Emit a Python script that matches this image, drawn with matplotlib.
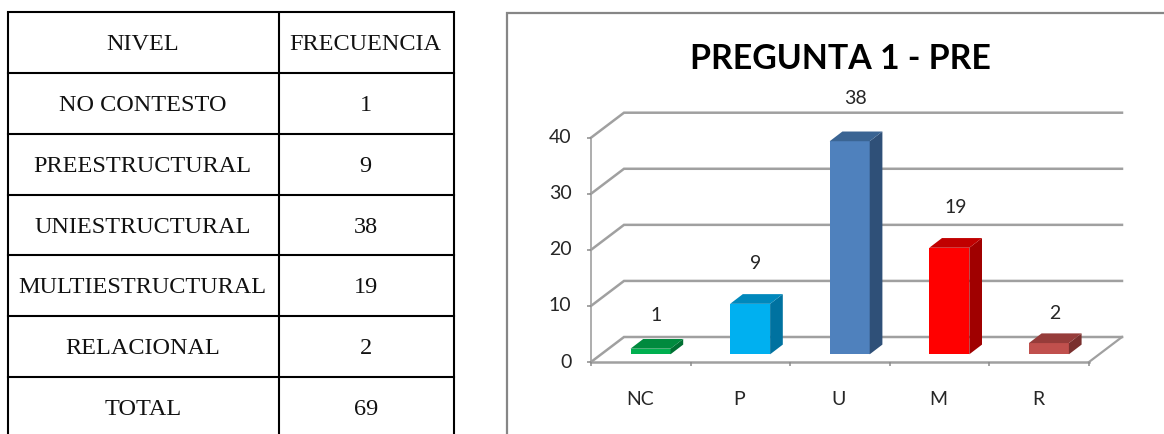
import matplotlib
matplotlib.use("Agg")
import matplotlib.pyplot as plt
from matplotlib.patches import Polygon

# Table contents
niveles = ["NO CONTESTO", "PREESTRUCTURAL", "UNIESTRUCTURAL",
           "MULTIESTRUCTURAL", "RELACIONAL", "TOTAL"]
frecuencias = [1, 9, 38, 19, 2, 69]

# Chart contents
categorias = ["NC", "P", "U", "M", "R"]
valores = [1, 9, 38, 19, 2]
y_ticks = [0, 10, 20, 30, 40]
frente = ["#00B050", "#00B0F0", "#4F81BD", "#FF0000", "#C0504D"]
techo = ["#008A3E", "#0088BC", "#3A6493", "#C00000", "#963C3A"]
lateral = ["#006F32", "#0072A0", "#2F5078", "#A00000", "#7A302E"]

W, H = 1164, 434
GRID = "#A0A0A0"
TEXT = "#262626"
SANS = "Lato"

fig = plt.figure(figsize=(W / 100, H / 100), dpi=100, facecolor="white")

# Page-level layer, measured in pixels: table and chart frame
page = fig.add_axes([0, 0, 1, 1])
page.set_xlim(0, W)
page.set_ylim(H, 0)
page.axis("off")

col_x = [7.7, 278.7, 454]
row_y = [12, 72.5, 133.7, 194.7, 255, 315.7, 376.7]
for x in col_x:
    page.plot([x, x], [row_y[0], H], color="black", lw=1.5, solid_capstyle="butt")
for y in row_y:
    page.plot([col_x[0], col_x[-1]], [y, y], color="black", lw=1.5, solid_capstyle="projecting")

table_font = dict(family="Liberation Serif", fontsize=17.5, color="#111111",
                  ha="center", va="center_baseline")
c1, c2 = 142.7, 365.7
page.text(c1, 42, "NIVEL", **table_font)
page.text(c2, 42, "FRECUENCIA", **table_font)
for k, (nivel, f) in enumerate(zip(niveles, frecuencias)):
    yc = (row_y[k + 1] + (row_y[k + 2] if k + 2 < len(row_y) else 438)) / 2
    page.text(c1, yc, nivel, **table_font)
    page.text(c2, yc, str(f), **table_font)

page.plot([507, 507, W], [H, 13, 13], color="#868686", lw=1.6, solid_joinstyle="miter")
page.text(840, 56, "PREGUNTA 1 - PRE", family=SANS, fontweight="bold", fontsize=24.4,
          color="black", ha="center", va="center_baseline")

# Front plane of the 3D-look column chart
left, right, bottom, top = 591, 1089, 362, 137.7
ax = fig.add_axes([left / W, 1 - bottom / H, (right - left) / W, (bottom - top) / H])
ax.set_xlim(0, len(categorias))
ax.set_ylim(0, y_ticks[-1])
ax.patch.set_alpha(0)
for s in ax.spines.values():
    s.set_visible(False)

xu = (right - left) / len(categorias)   # pixels per category
yu = (bottom - top) / y_ticks[-1]       # pixels per value unit
wall_dx, wall_dy = 33 / xu, 25 / yu     # depth of the chart box
bar_dx, bar_dy = 12.7 / xu, 9.7 / yu    # depth of each column
lift = 7.7 / yu                         # columns stand inside the floor
inset, bar_w = 39.5 / xu, 40 / xu

# Back wall gridlines, side-wall diagonals and floor
for t in y_ticks:
    ax.plot([0, wall_dx, len(categorias) + wall_dx], [t, t + wall_dy, t + wall_dy],
            color=GRID, lw=1.8, clip_on=False, zorder=1, solid_joinstyle="miter")
ax.plot([len(categorias), len(categorias) + wall_dx], [0, wall_dy],
        color=GRID, lw=1.6, clip_on=False, zorder=1)
ax.plot([0, 0], [0, y_ticks[-1]], color=GRID, lw=1.2, clip_on=False, zorder=1)
ax.plot([0, len(categorias)], [0, 0], color=GRID, lw=1.8, clip_on=False, zorder=1)

# Columns
label_lift = [35, 42, 44.5, 42, 31]
for i, v in enumerate(valores):
    x0, x1 = i + inset, i + inset + bar_w
    y0, y1 = lift, lift + v
    ax.add_patch(Polygon([(x0, y0), (x1, y0), (x1, y1), (x0, y1)], fc=frente[i], ec="none",
                         clip_on=False, zorder=3))
    ax.add_patch(Polygon([(x1, y0), (x1 + bar_dx, y0 + bar_dy), (x1 + bar_dx, y1 + bar_dy), (x1, y1)],
                         fc=lateral[i], ec="none", clip_on=False, zorder=3))
    ax.add_patch(Polygon([(x0, y1), (x1, y1), (x1 + bar_dx, y1 + bar_dy), (x0 + bar_dx, y1 + bar_dy)],
                         fc=techo[i], ec="none", clip_on=False, zorder=3))
    ax.annotate(str(v), xy=((x0 + x1) / 2, y1), xytext=(4.3, label_lift[i] * 0.72),
                textcoords="offset points", ha="center", va="center_baseline",
                family=SANS, fontsize=14, color=TEXT, zorder=4)

ax.set_yticks(y_ticks)
ax.set_xticks(range(len(categorias) + 1))
ax.set_xticklabels([""] * (len(categorias) + 1))
ax.tick_params(axis="both", length=3, width=1.1, color="#8C8C8C", labelsize=14,
               labelcolor=TEXT, labelfontfamily=SANS)
ax.tick_params(axis="y", pad=11)
for lab in ax.get_yticklabels():
    lab.set_verticalalignment("center")
for i, c in enumerate(categorias):
    ax.annotate(c, xy=(i + 0.5, 0), xytext=(-0.7, -25.6), textcoords="offset points",
                ha="center", va="center_baseline", family=SANS, fontsize=14, color=TEXT)

fig.savefig("out.png", dpi=100)
